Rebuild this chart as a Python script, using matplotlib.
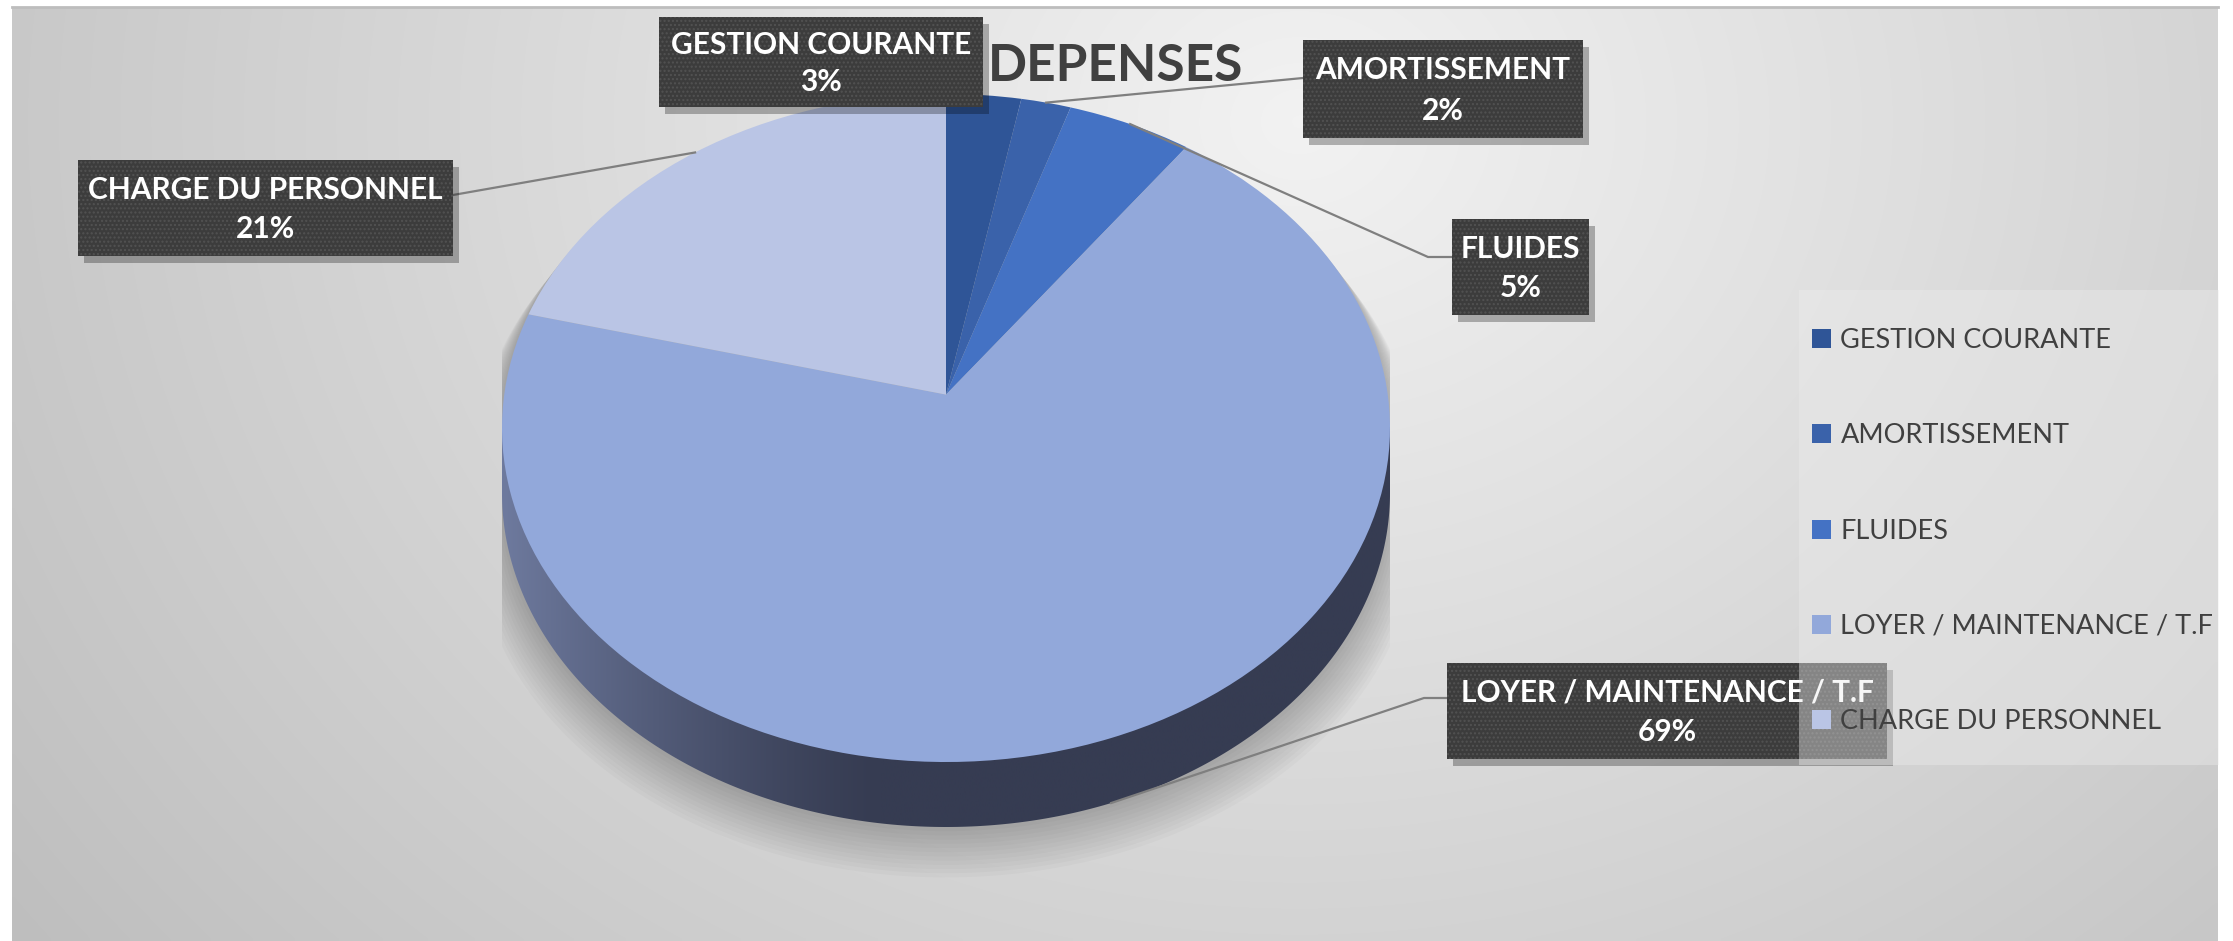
import numpy as np
import matplotlib
matplotlib.use("Agg")
import matplotlib.pyplot as plt
from matplotlib.patches import Rectangle, Polygon
from matplotlib.colors import to_rgb
from matplotlib.transforms import Transform

# ---------------- data ----------------
categories = ["GESTION COURANTE", "AMORTISSEMENT", "FLUIDES",
              "LOYER / MAINTENANCE / T.F", "CHARGE DU PERSONNEL"]
values = [3, 2, 5, 69, 21]
title = "DEPENSES"

top_colors = ["#2f5597", "#3a62aa", "#4472c4", "#92a8da", "#bac5e5"]

W, H = 2233, 941
fig = plt.figure(figsize=(W / 100, H / 100), dpi=100)
fig.patch.set_facecolor("white")
FONT = "Lato"

# ---------------- background ----------------
bg = fig.add_axes([0, 0, 1, 1], zorder=0)
bg.set_xlim(0, W); bg.set_ylim(H, 0); bg.axis("off")
X0, Y0, X1, Y1 = 12, 7, 2218, 941
gx, gy = np.meshgrid(np.linspace(X0, X1, 400), np.linspace(Y0, Y1, 200))
d = np.sqrt(((gx - 1300) / 1300) ** 2 + ((gy - 120) / 1100) ** 2)
v = np.clip(0.95 - 0.165 * d, 0, 1)
bg.imshow(np.dstack([v, v, v]), extent=[X0, X1, Y1, Y0], aspect="auto",
          interpolation="bilinear", zorder=0)
bg.plot([X0, X1], [Y0, Y0], color="#bdbdbd", lw=2, zorder=1)


# ---------------- perspective transform for the tilted pie ----------------
class Persp(Transform):
    input_dims = 2
    output_dims = 2

    def __init__(self, k):
        super().__init__()
        self.k = k

    def transform_non_affine(self, values):
        v = np.asarray(values, dtype=float).reshape(-1, 2)
        k = self.k
        den = 1 + k * v[:, 1]
        return np.column_stack([v[:, 0] * np.sqrt(1 - k * k) / den,
                                v[:, 1] * (1 - k * k) / den + k])


persp = Persp(0.1)

# ---------------- pie (elliptical, with extruded side) ----------------
cx, top, bottom_face = 946, 94, 762
rx = 444
ry = (bottom_face - top) / 2
thick = 65 / ry
ax_bottom_px = 880
ext = (ax_bottom_px - bottom_face) / ry
pie_ax = fig.add_axes([(cx - rx) / W, 1 - ax_bottom_px / H, 2 * rx / W,
                       (ax_bottom_px - top) / H], zorder=1)
pie_ax.patch.set_alpha(0)

wedges, _ = pie_ax.pie(values, colors=top_colors, startangle=90,
                       counterclock=False, radius=1,
                       wedgeprops=dict(linewidth=0))
pie_ax.set_aspect("auto")
pie_ax.set_xlim(-1, 1)
pie_ax.set_ylim(-1 - ext, 1)
pie_ax.axis("off")
for w in wedges:
    w.set_zorder(3)
    w.set_transform(persp + pie_ax.transData)

t1 = np.linspace(0, -np.pi, 300)
t2 = np.linspace(np.pi, 0, 300)
hull = np.vstack([np.column_stack([np.cos(t1), np.sin(t1) - thick]),
                  np.column_stack([np.cos(t2), np.sin(t2)])])

# soft shadow
for k in range(12, 0, -1):
    sh = hull.copy()
    sh[:, 0] *= 1 + 0.005 * k
    sh[:, 1] = sh[:, 1] * (1 + 0.003 * k) - 0.009 * k
    pie_ax.add_patch(Polygon(sh, closed=True, fc="black", ec="none",
                             alpha=0.018, zorder=1))

side = Polygon(hull, closed=True, fc="none", ec="none", zorder=2)
pie_ax.add_patch(side)
dark = np.array(to_rgb("#363c52"))
light = np.array(to_rgb("#6e7a9e"))
xs = np.linspace(-1, 1, 400)
f = np.clip((-0.15 - xs) / 0.85, 0, 1) ** 1.3
grad = dark[None, :] + f[:, None] * (light - dark)[None, :]
im = pie_ax.imshow(grad[None, :, :], extent=[-1, 1, -1 - thick - 0.01, 0.0],
                   aspect="auto", interpolation="bilinear", zorder=2)
im.set_clip_path(side)

# ---------------- overlay: title, labels, legend ----------------
ov = fig.add_axes([0, 0, 1, 1], zorder=2)
ov.set_xlim(0, W); ov.set_ylim(H, 0); ov.axis("off")
ov.patch.set_alpha(0)

ov.text(1116, 66, title, ha="center", va="center", fontsize=37,
        fontweight="bold", color="#404040", family=FONT)


def to_ov(pt):
    p = persp.transform(np.array([pt]))[0]
    disp = pie_ax.transData.transform(p)
    return ov.transData.inverted().transform(disp)


total = sum(values)
cum = np.cumsum([0] + values)
mid_angles = [np.deg2rad(90 - (cum[i] + values[i] / 2) / total * 360)
              for i in range(len(values))]

# label boxes: (x0, y0, w, h), leader start, elbow, anchor on side
boxes = [
    (659, 17, 324, 90, None, None, False),
    (1303, 40, 280, 98, (1303, 78), None, False),
    (1452, 219, 137, 96, (1452, 257), (1428, 257), False),
    (1447, 663, 440, 96, (1447, 698), (1424, 698), True),
    (78, 160, 375, 96, (453, 195), None, False),
]

for i, (x0, y0, bw, bh, start, elbow, on_side) in enumerate(boxes):
    a = mid_angles[i]
    if start is not None:
        ax_, ay_ = to_ov((np.cos(a), np.sin(a)))
        if on_side:
            ay_ += thick * ry
        pts = [start] + ([elbow] if elbow else []) + [(ax_, ay_)]
        ov.plot([p[0] for p in pts], [p[1] for p in pts], color="#7f7f7f",
                lw=1.6, zorder=2)
    ov.add_patch(Rectangle((x0 + 6, y0 + 7), bw, bh, fc="black", ec="none",
                           alpha=0.28, zorder=3))
    ov.add_patch(Rectangle((x0, y0), bw, bh, fc="#3c3c3c", ec="none",
                           zorder=4))
    ov.add_patch(Rectangle((x0, y0), bw, bh, fc="none", ec="#525252", lw=0,
                           hatch="....", zorder=4.5))
    pct = f"{values[i] / total * 100:.0f}%"
    ov.text(x0 + bw / 2, y0 + bh * 0.31, categories[i], ha="center",
            va="center", fontsize=21.5, fontweight="bold", color="white",
            family=FONT, zorder=5)
    ov.text(x0 + bw / 2, y0 + bh * 0.72, pct, ha="center", va="center",
            fontsize=21.5, fontweight="bold", color="white", family=FONT,
            zorder=5)

# legend background (translucent)
ov.add_patch(Rectangle((1799, 290), 420, 475, fc="#ececec", ec="none",
                       alpha=0.42, zorder=6))

leg = fig.legend(wedges, categories, loc="center left",
                 bbox_to_anchor=(1812 / W, 1 - 531 / H), frameon=False,
                 prop=dict(family=FONT, size=19.5), labelcolor="#404040",
                 handlelength=0.7, handleheight=0.7, handletextpad=0.35,
                 labelspacing=2.6, borderpad=0, borderaxespad=0)
leg.set_zorder(10)

fig.savefig("out.png", dpi=100, facecolor=fig.get_facecolor())
